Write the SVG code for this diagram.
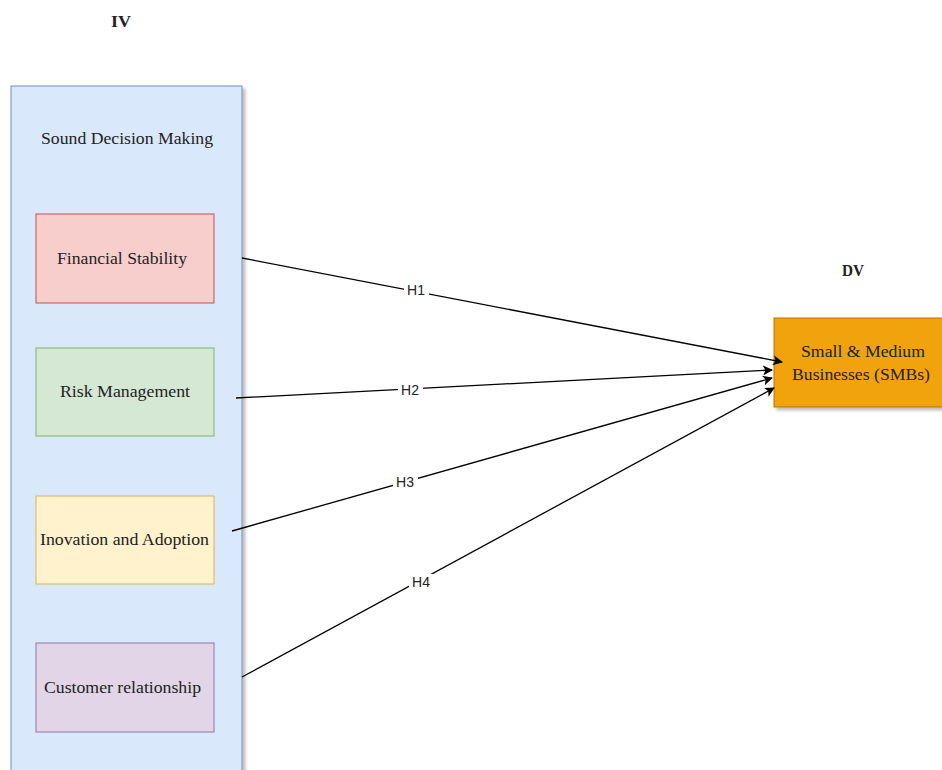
<svg xmlns="http://www.w3.org/2000/svg" width="942" height="770" viewBox="0 0 942 770">
<defs>
<filter id="sh" x="-10%" y="-10%" width="130%" height="130%">
<feGaussianBlur in="SourceAlpha" stdDeviation="1.5"/>
<feOffset dx="3" dy="3" result="b"/>
<feFlood flood-color="#000" flood-opacity="0.25"/>
<feComposite in2="b" operator="in"/>
<feMerge><feMergeNode/><feMergeNode in="SourceGraphic"/></feMerge>
</filter>
<marker id="arr" viewBox="0 0 10 10" refX="9" refY="5" markerWidth="10" markerHeight="10" markerUnits="userSpaceOnUse" orient="auto">
<path d="M0,0 L10,5 L0,10 L2.5,5 Z" fill="#000"/>
</marker>
</defs>
<style>
.t{font-family:"Liberation Serif","Times New Roman",serif;font-size:16px;fill:#222;text-anchor:middle;}
.b{font-weight:bold;}
.lbl{font-family:"Liberation Sans",Arial,sans-serif;font-size:14px;fill:#222;text-anchor:middle;}
.edge{stroke:#000;stroke-width:1.3;fill:none;marker-end:url(#arr);}
</style>
<rect width="942" height="770" fill="#fff"/>
<g id="iv-title"><text class="t b" x="121" y="27" textLength="20" lengthAdjust="spacingAndGlyphs">IV</text></g>
<g id="dv-title"><text class="t b" x="853" y="276" textLength="22" lengthAdjust="spacingAndGlyphs">DV</text></g>
<g id="sound-decision">
<rect x="11" y="86" width="231" height="700" fill="#dae8fc" stroke="#6c8ebf" stroke-width="1" filter="url(#sh)"/>
<text class="t" x="127" y="144" textLength="172" lengthAdjust="spacingAndGlyphs">Sound Decision Making</text>
</g>
<g id="financial">
<rect x="36" y="214" width="178" height="89" fill="#f8cecc" stroke="#b85450"/>
<text class="t" x="122" y="264" textLength="130" lengthAdjust="spacingAndGlyphs">Financial Stability</text>
</g>
<g id="risk">
<rect x="36" y="348" width="178" height="88" fill="#d5e8d4" stroke="#82b366"/>
<text class="t" x="125" y="397" textLength="130" lengthAdjust="spacingAndGlyphs">Risk Management</text>
</g>
<g id="innovation">
<rect x="36" y="496" width="178" height="88" fill="#fff2cc" stroke="#d6b656"/>
<text class="t" x="124.5" y="545" textLength="169" lengthAdjust="spacingAndGlyphs">Inovation and Adoption</text>
</g>
<g id="customer">
<rect x="36" y="643" width="178" height="89" fill="#e1d5e7" stroke="#9673a6"/>
<text class="t" x="122.5" y="693" textLength="157" lengthAdjust="spacingAndGlyphs">Customer relationship</text>
</g>
<g id="smb">
<rect x="774" y="318" width="172" height="89" fill="#f0a30a" stroke="#bd7000" filter="url(#sh)"/>
<text class="t" x="863" y="357" textLength="124" lengthAdjust="spacingAndGlyphs">Small &amp; Medium</text>
<text class="t" x="861" y="380" textLength="138" lengthAdjust="spacingAndGlyphs">Businesses (SMBs)</text>
</g>
<g id="connectors">
<path class="edge" d="M242,258 L782,362"/>
<path class="edge" d="M236,398 L772,370"/>
<path class="edge" d="M232,531 L772,378"/>
<path class="edge" d="M242,677 L774,388"/>
<rect x="404" y="282" width="25" height="16" fill="#fff"/>
<text class="lbl" x="416" y="295">H1</text>
<rect x="398" y="382" width="25" height="16" fill="#fff"/>
<text class="lbl" x="410" y="395">H2</text>
<rect x="393" y="474" width="25" height="16" fill="#fff"/>
<text class="lbl" x="405" y="487">H3</text>
<rect x="409" y="574" width="25" height="16" fill="#fff"/>
<text class="lbl" x="421" y="587">H4</text>
</g>
</svg>
